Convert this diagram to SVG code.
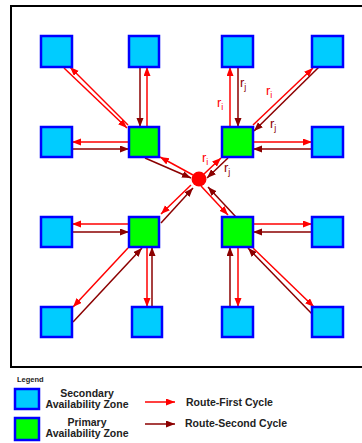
<svg xmlns="http://www.w3.org/2000/svg" width="362" height="443" viewBox="0 0 362 443">
<style>
.sec{fill:#00CCFF;stroke:#0000FF;stroke-width:2.5}
.pri{fill:#00FF00;stroke:#0000FF;stroke-width:2.5}
.r1{stroke:#FF0000;stroke-width:1.5;fill:none;marker-end:url(#ar)}
.r2{stroke:#8B0000;stroke-width:1.5;fill:none;marker-end:url(#ad)}
.li{font-family:"Liberation Sans",Arial,sans-serif;font-size:13px;fill:#FF0000}
.lj{font-family:"Liberation Sans",Arial,sans-serif;font-size:13px;fill:#8B0000}
.lg{font-family:"Liberation Sans",Arial,sans-serif;font-weight:bold;font-size:10.5px;fill:#222}
.lt{font-family:"Liberation Sans",Arial,sans-serif;font-weight:bold;font-size:7.5px;fill:#222}
</style>
<defs>
<marker id="ar" markerUnits="userSpaceOnUse" markerWidth="10" markerHeight="8" refX="9" refY="3.5" orient="auto"><path d="M0,0 L9,3.5 L0,7 z" fill="#FF0000"/></marker>
<marker id="ad" markerUnits="userSpaceOnUse" markerWidth="10" markerHeight="8" refX="9" refY="3.5" orient="auto"><path d="M0,0 L9,3.5 L0,7 z" fill="#8B0000"/></marker>
</defs>
<rect x="11" y="6" width="360" height="361" fill="#fff" stroke="#000" stroke-width="2"/>
<g id="connectors">
<line class="r1" x1="64" y1="68" x2="127" y2="128"/>
<line class="r1" x1="128" y1="125" x2="70" y2="67"/>
<line class="r2" x1="140" y1="67" x2="140" y2="127"/>
<line class="r1" x1="147" y1="127" x2="147" y2="67"/>
<line class="r1" x1="129" y1="142" x2="72" y2="142"/>
<line class="r2" x1="72" y1="149" x2="129" y2="149"/>
<line class="r2" x1="145" y1="158" x2="191" y2="178"/>
<line class="r1" x1="193" y1="175" x2="160" y2="157"/>
<line class="r1" x1="230" y1="127" x2="230" y2="67"/>
<line class="r2" x1="238" y1="67" x2="238" y2="127"/>
<line class="r1" x1="253" y1="125" x2="313" y2="68"/>
<line class="r2" x1="319" y1="67" x2="254" y2="131"/>
<line class="r1" x1="253" y1="142" x2="312" y2="142"/>
<line class="r2" x1="312" y1="149" x2="253" y2="149"/>
<line class="r1" x1="204" y1="174" x2="221" y2="158"/>
<line class="r2" x1="228" y1="158" x2="207" y2="178"/>
<line class="r1" x1="129" y1="224" x2="72" y2="224"/>
<line class="r2" x1="72" y1="232" x2="129" y2="232"/>
<line class="r1" x1="128" y1="248" x2="73" y2="307"/>
<line class="r2" x1="73" y1="322" x2="142" y2="248"/>
<line class="r1" x1="147" y1="247" x2="147" y2="307"/>
<line class="r2" x1="152" y1="307" x2="152" y2="247"/>
<line class="r1" x1="191" y1="185" x2="161" y2="214"/>
<line class="r2" x1="161" y1="223" x2="193" y2="188"/>
<line class="r1" x1="253" y1="224" x2="312" y2="224"/>
<line class="r2" x1="312" y1="232" x2="253" y2="232"/>
<line class="r2" x1="230" y1="307" x2="230" y2="247"/>
<line class="r1" x1="238" y1="247" x2="238" y2="307"/>
<line class="r1" x1="253" y1="248" x2="314" y2="307"/>
<line class="r2" x1="313" y1="315" x2="248" y2="248"/>
<line class="r1" x1="201" y1="186" x2="228" y2="215"/>
<line class="r2" x1="236" y1="217" x2="208" y2="187"/>
</g>
<g id="labels">
<text class="li" x="217" y="107">r<tspan dy="3" font-size="9">i</tspan></text>
<text class="lj" x="240" y="87">r<tspan dy="3" font-size="9">j</tspan></text>
<text class="li" x="266" y="95">r<tspan dy="3" font-size="9">i</tspan></text>
<text class="lj" x="270" y="128">r<tspan dy="3" font-size="9">j</tspan></text>
<text class="li" x="202" y="162">r<tspan dy="3" font-size="9">i</tspan></text>
<text class="lj" x="224" y="172">r<tspan dy="3" font-size="9">j</tspan></text>
</g>
<g id="center"><circle cx="199" cy="179" r="7.5" fill="#FF0000"/></g>
<g id="s11"><rect class="sec" x="41" y="36" width="31" height="31"/></g>
<g id="s12"><rect class="sec" x="129" y="36" width="30" height="31"/></g>
<g id="s13"><rect class="sec" x="222" y="36" width="31" height="31"/></g>
<g id="s14"><rect class="sec" x="312" y="36" width="31" height="31"/></g>
<g id="s21"><rect class="sec" x="41" y="127" width="31" height="30"/></g>
<g id="p22"><rect class="pri" x="129" y="127" width="30" height="30"/></g>
<g id="p23"><rect class="pri" x="222" y="127" width="31" height="30"/></g>
<g id="s24"><rect class="sec" x="312" y="127" width="31" height="30"/></g>
<g id="s31"><rect class="sec" x="41" y="217" width="31" height="30"/></g>
<g id="p32"><rect class="pri" x="129" y="217" width="30" height="30"/></g>
<g id="p33"><rect class="pri" x="222" y="217" width="31" height="30"/></g>
<g id="s34"><rect class="sec" x="312" y="217" width="31" height="30"/></g>
<g id="s41"><rect class="sec" x="41" y="307" width="31" height="30"/></g>
<g id="s42"><rect class="sec" x="132" y="307" width="30" height="30"/></g>
<g id="s43"><rect class="sec" x="222" y="307" width="31" height="30"/></g>
<g id="s44"><rect class="sec" x="312" y="307" width="31" height="30"/></g>
<g id="legend">
<text class="lt" x="17" y="382">Legend</text>
<rect class="sec" x="15" y="389" width="24" height="20"/>
<rect class="pri" x="15" y="418" width="24" height="22"/>
<text class="lg" x="87" y="397" text-anchor="middle">Secondary</text>
<text class="lg" x="87" y="408" text-anchor="middle">Availability Zone</text>
<text class="lg" x="87" y="426" text-anchor="middle">Primary</text>
<text class="lg" x="87" y="437" text-anchor="middle">Availability Zone</text>
<line class="r1" x1="145" y1="402" x2="175" y2="402"/>
<line class="r2" x1="145" y1="424" x2="175" y2="424"/>
<text class="lg" x="186" y="406">Route-First Cycle</text>
<text class="lg" x="185" y="427">Route-Second Cycle</text>
</g>
</svg>
